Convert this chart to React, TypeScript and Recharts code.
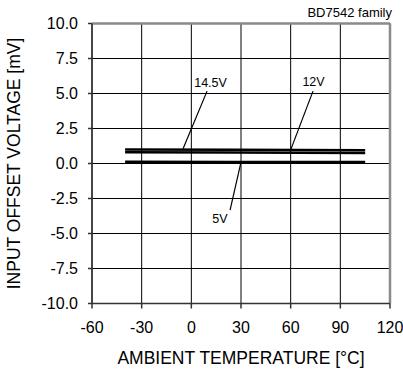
import {
  LineChart,
  Line,
  XAxis,
  YAxis,
  CartesianGrid,
  ReferenceLine,
  ReferenceDot,
} from 'recharts';

// temperatures [°C] where the offset was measured
const temps = [-40, 25, 105];
// input offset voltage [mV] per supply voltage
const v145 = [1.0, 0.98, 0.95];
const v12 = [0.8, 0.78, 0.75];
const v5 = [0.12, 0.1, 0.1];

const xTicks = [-60, -30, 0, 30, 60, 90, 120];
const yTicks = [-10, -7.5, -5, -2.5, 0, 2.5, 5, 7.5, 10];

// series names with their leader lines (data coordinates)
const callouts = [
  { name: '14.5V', tx: 11.6, ty: 5.8, from: { x: 9.5, y: 5.17 }, to: { x: -5, y: 1.05 } },
  { name: '12V', tx: 73.8, ty: 5.85, from: { x: 73.5, y: 5.17 }, to: { x: 59.6, y: 0.85 } },
  { name: '5V', tx: 17.3, ty: -3.9, from: { x: 23.4, y: -3.33 }, to: { x: 30, y: 0.1 } },
];

const FONT = '"Liberation Sans", Arial, sans-serif';
const FRAME = '#8a8a8a';
const AXIS = '#333';

export default function App() {
  const data = temps.map((t, i) => ({ t, v145: v145[i], v12: v12[i], v5: v5[i] }));

  return (
    <div style={{ position: 'absolute', left: 0, top: 0, width: 403, height: 372, background: '#fff', fontFamily: FONT }}>
      <div style={{ position: 'absolute', right: 11, top: 6, fontSize: 13, lineHeight: '13px', color: '#000' }}>
        BD7542 family
      </div>
      <LineChart width={403} height={372} data={data} margin={{ top: 23.5, right: 13, bottom: 0, left: 0 }}>
        <CartesianGrid stroke="#000" strokeWidth={1} />
        <XAxis
          dataKey="t"
          type="number"
          domain={[-60, 120]}
          ticks={xTicks}
          height={68.5}
          tickSize={5}
          tickMargin={13}
          stroke={AXIS}
          strokeWidth={1.5}
          tick={{ fill: '#000', fontSize: 16, fontFamily: FONT }}
          label={{ value: 'AMBIENT TEMPERATURE [°C]', position: 'insideBottom', offset: 8, fill: '#000', fontSize: 17.5, fontFamily: FONT }}
        />
        <YAxis
          type="number"
          domain={[-10, 10]}
          ticks={yTicks}
          width={92}
          tickSize={4}
          tickMargin={10}
          stroke={AXIS}
          strokeWidth={1.5}
          tickFormatter={(v: number) => v.toFixed(1)}
          tick={{ fill: '#000', fontSize: 16, fontFamily: FONT }}
          label={{
            value: 'INPUT OFFSET VOLTAGE [mV]',
            angle: -90,
            position: 'insideLeft',
            offset: 13.5,
            fill: '#000',
            fontSize: 17.5,
            fontFamily: FONT,
            style: { textAnchor: 'middle' },
          }}
        />
        <ReferenceLine y={10} stroke={FRAME} strokeWidth={2.5} />
        <ReferenceLine x={120} stroke={FRAME} strokeWidth={2.5} />
        <Line dataKey="v145" stroke="#000" strokeWidth={2.5} dot={false} isAnimationActive={false} />
        <Line dataKey="v12" stroke="#000" strokeWidth={2.5} dot={false} isAnimationActive={false} />
        <Line dataKey="v5" stroke="#000" strokeWidth={2.7} dot={false} isAnimationActive={false} />
        {callouts.map(c => (
          <ReferenceLine
            key={c.name + '-line'}
            segment={[c.from, c.to]}
            stroke="#000"
            strokeWidth={1.2}
            ifOverflow="visible"
          />
        ))}
        {callouts.map(c => (
          <ReferenceDot
            key={c.name + '-label'}
            x={c.tx}
            y={c.ty}
            r={0}
            fill="none"
            stroke="none"
            label={{ value: c.name, position: 'center', fill: '#000', fontSize: 12.5, fontFamily: FONT }}
          />
        ))}
      </LineChart>
    </div>
  );
}
